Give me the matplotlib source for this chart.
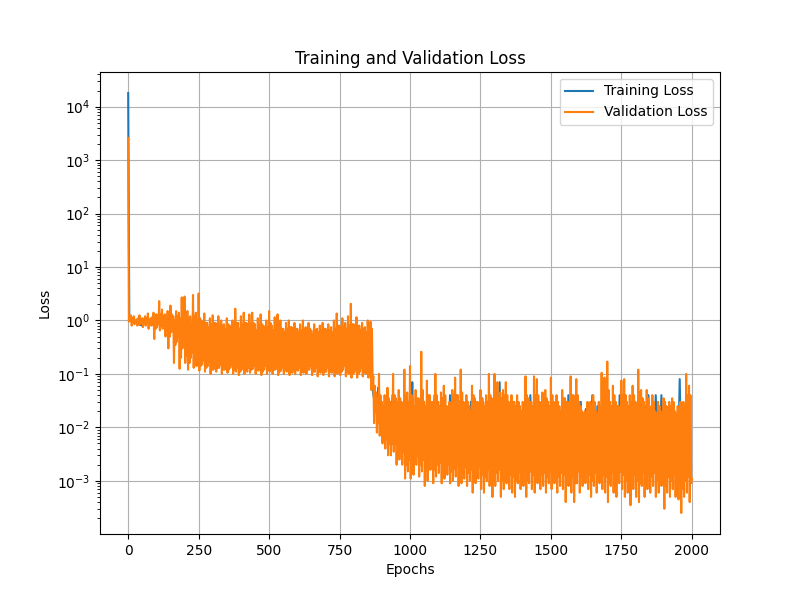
import matplotlib
matplotlib.use("Agg")
import matplotlib.pyplot as plt

# Validation loss: outer upper and lower excursions in successive 10-epoch bins
val_high = [
    2600, 1.25, 1.2, 1.05, 1.25, 1.1, 1.2, 1.35, 1.1, 1.4,
    1.3, 2.3, 1.6, 1.3, 1.5, 1.9, 1.2, 1.5, 1.4, 2.7,
    2.8, 1.5, 1.2, 3.0, 1.4, 3.2, 1.0, 1.35, 0.9, 1.1,
    1.25, 0.9, 1.2, 1.0, 0.85, 1.1, 0.8, 1.0, 1.66, 0.9,
    1.2, 1.4, 0.9, 1.3, 1.4, 0.85, 1.1, 1.3, 0.8, 1.0,
    1.5, 0.8, 1.15, 1.3, 1.0, 0.7, 0.9, 1.0, 0.75, 0.9,
    0.7, 0.85, 1.0, 0.75, 0.9, 0.65, 0.85, 0.7, 0.8, 0.9,
    0.7, 0.85, 0.75, 1.0, 1.35, 0.8, 1.1, 0.9, 1.2, 2.05,
    0.85, 1.15, 0.8, 0.9, 0.75, 1.0, 0.95, 0.09, 0.045, 0.1,
    0.03, 0.04, 0.055, 0.03, 0.1, 0.035, 0.05, 0.03, 0.12, 0.045,
    0.14, 0.03, 0.05, 0.035, 0.26, 0.03, 0.075, 0.04, 0.03, 0.1,
    0.03, 0.045, 0.06, 0.025, 0.03, 0.05, 0.085, 0.04, 0.12, 0.03,
    0.04, 0.025, 0.06, 0.035, 0.03, 0.05, 0.03, 0.04, 0.1, 0.035,
    0.1, 0.07, 0.045, 0.05, 0.07, 0.03, 0.04, 0.03, 0.04, 0.025,
    0.03, 0.09, 0.035, 0.03, 0.09, 0.08, 0.03, 0.045, 0.05, 0.03,
    0.085, 0.03, 0.04, 0.025, 0.05, 0.035, 0.03, 0.09, 0.04, 0.08,
    0.03, 0.02, 0.02, 0.03, 0.03, 0.04, 0.02, 0.03, 0.105, 0.085,
    0.17, 0.03, 0.06, 0.03, 0.025, 0.075, 0.08, 0.03, 0.04, 0.06,
    0.03, 0.12, 0.05, 0.03, 0.05, 0.025, 0.04, 0.02, 0.03, 0.02,
    0.035, 0.025, 0.03, 0.035, 0.02, 0.025, 0.03, 0.03, 0.1, 0.06,
]
val_low = [
    0.95, 0.8, 0.85, 0.8, 0.85, 0.75, 0.8, 0.7, 0.8, 0.45,
    0.75, 0.65, 0.7, 0.5, 0.3, 0.6, 0.16, 0.4, 0.125, 0.3,
    0.16, 0.12, 0.2, 0.13, 0.14, 0.115, 0.15, 0.11, 0.14, 0.1,
    0.12, 0.11, 0.13, 0.1, 0.12, 0.105, 0.13, 0.1, 0.11, 0.095,
    0.12, 0.1, 0.11, 0.105, 0.125, 0.1, 0.115, 0.095, 0.12, 0.1,
    0.11, 0.1, 0.12, 0.095, 0.115, 0.1, 0.11, 0.095, 0.105, 0.1,
    0.115, 0.095, 0.105, 0.1, 0.12, 0.095, 0.11, 0.09, 0.105, 0.095,
    0.11, 0.09, 0.105, 0.09, 0.1, 0.095, 0.12, 0.09, 0.1, 0.085,
    0.105, 0.085, 0.11, 0.09, 0.1, 0.085, 0.05, 0.012, 0.008, 0.007,
    0.005, 0.004, 0.003, 0.003, 0.0035, 0.002, 0.0025, 0.002, 0.0011, 0.0015,
    0.0011, 0.0013, 0.002, 0.0012, 0.0015, 0.0008, 0.001, 0.0016, 0.0009, 0.0012,
    0.0014, 0.0009, 0.0011, 0.0013, 0.0009, 0.001, 0.0012, 0.0008, 0.0009, 0.0011,
    0.0008, 0.001, 0.0006, 0.0009, 0.0011, 0.0007, 0.0006, 0.001, 0.0008, 0.0005,
    0.0008, 0.001, 0.0005, 0.0007, 0.0009, 0.0007, 0.0006, 0.0005, 0.0009, 0.0007,
    0.0008, 0.0005, 0.0009, 0.0007, 0.0006, 0.0009, 0.0007, 0.0008, 0.0006, 0.0009,
    0.0007, 0.0009, 0.0006, 0.0008, 0.0007, 0.0004, 0.0008, 0.0006, 0.0004, 0.0009,
    0.0006, 0.0008, 0.0009, 0.0007, 0.0005, 0.0008, 0.0006, 0.0009, 0.0007, 0.0006,
    0.0004, 0.0008, 0.0006, 0.0005, 0.0009, 0.0007, 0.0005, 0.0006, 0.00035, 0.0007,
    0.0005, 0.0004, 0.0008, 0.0005, 0.0007, 0.0006, 0.0008, 0.0005, 0.0006, 0.0008,
    0.0003, 0.0006, 0.0005, 0.0007, 0.0005, 0.00045, 0.00025, 0.0005, 0.0006, 0.0004,
]
# Inner excursions between the outer ones, which fill the solid body of the band
val_high_inner = [
    1.1, 1.1, 1.0, 1.1, 1.0, 1.05, 1.1, 1.0, 1.15, 1.2,
    1.1, 1.3, 1.2, 1.1, 1.2, 1.3, 1.0, 1.2, 1.1, 1.3,
    1.2, 1.1, 0.9, 1.2, 1.0, 1.1, 0.8, 0.9, 0.75, 0.85,
    0.9, 0.7, 0.85, 0.8, 0.7, 0.85, 0.65, 0.8, 0.9, 0.7,
    0.85, 0.9, 0.7, 0.85, 0.9, 0.65, 0.8, 0.85, 0.65, 0.75,
    0.9, 0.65, 0.8, 0.85, 0.7, 0.6, 0.7, 0.75, 0.6, 0.7,
    0.6, 0.65, 0.7, 0.6, 0.7, 0.55, 0.65, 0.6, 0.65, 0.7,
    0.6, 0.65, 0.6, 0.7, 0.8, 0.65, 0.75, 0.7, 0.8, 0.85,
    0.65, 0.8, 0.65, 0.7, 0.6, 0.75, 0.7, 0.06, 0.035, 0.04,
    0.025, 0.03, 0.035, 0.025, 0.04, 0.03, 0.035, 0.025, 0.04, 0.03,
    0.04, 0.025, 0.035, 0.03, 0.05, 0.025, 0.04, 0.03, 0.025, 0.04,
    0.025, 0.035, 0.04, 0.02, 0.025, 0.035, 0.04, 0.03, 0.045, 0.025,
    0.03, 0.02, 0.04, 0.03, 0.025, 0.035, 0.025, 0.03, 0.04, 0.03,
    0.04, 0.035, 0.035, 0.04, 0.04, 0.025, 0.03, 0.025, 0.03, 0.02,
    0.025, 0.04, 0.03, 0.025, 0.04, 0.04, 0.025, 0.035, 0.035, 0.025,
    0.04, 0.025, 0.03, 0.02, 0.035, 0.03, 0.025, 0.04, 0.03, 0.04,
    0.025, 0.018, 0.018, 0.025, 0.025, 0.03, 0.018, 0.025, 0.04, 0.04,
    0.05, 0.025, 0.04, 0.025, 0.02, 0.04, 0.04, 0.025, 0.03, 0.04,
    0.025, 0.045, 0.035, 0.025, 0.035, 0.02, 0.03, 0.018, 0.025, 0.018,
    0.03, 0.02, 0.025, 0.03, 0.018, 0.02, 0.025, 0.025, 0.04, 0.04,
]
val_low_inner = [
    1.0, 0.9, 0.9, 0.85, 0.9, 0.85, 0.9, 0.85, 0.85, 0.7,
    0.85, 0.8, 0.8, 0.7, 0.5, 0.7, 0.35, 0.5, 0.2, 0.4,
    0.22, 0.16, 0.25, 0.17, 0.18, 0.14, 0.18, 0.13, 0.17, 0.12,
    0.14, 0.13, 0.15, 0.12, 0.14, 0.12, 0.15, 0.12, 0.13, 0.11,
    0.14, 0.12, 0.13, 0.12, 0.14, 0.12, 0.13, 0.11, 0.14, 0.12,
    0.13, 0.12, 0.14, 0.11, 0.13, 0.12, 0.13, 0.11, 0.12, 0.12,
    0.13, 0.11, 0.12, 0.12, 0.14, 0.11, 0.13, 0.11, 0.12, 0.11,
    0.13, 0.11, 0.12, 0.11, 0.12, 0.11, 0.14, 0.11, 0.12, 0.1,
    0.12, 0.1, 0.13, 0.11, 0.12, 0.1, 0.07, 0.02, 0.012, 0.01,
    0.008, 0.006, 0.005, 0.005, 0.005, 0.0035, 0.004, 0.0035, 0.002, 0.0025,
    0.002, 0.0022, 0.003, 0.002, 0.0025, 0.0015, 0.0018, 0.0025, 0.0016, 0.002,
    0.0022, 0.0016, 0.0018, 0.002, 0.0015, 0.0017, 0.002, 0.0014, 0.0015, 0.0018,
    0.0014, 0.0016, 0.0012, 0.0015, 0.0018, 0.0013, 0.0012, 0.0016, 0.0014, 0.001,
    0.0014, 0.0016, 0.001, 0.0013, 0.0015, 0.0013, 0.0012, 0.001, 0.0015, 0.0013,
    0.0014, 0.001, 0.0015, 0.0013, 0.0012, 0.0015, 0.0013, 0.0014, 0.0012, 0.0015,
    0.0013, 0.0015, 0.0012, 0.0014, 0.0013, 0.0009, 0.0014, 0.0012, 0.0009, 0.0015,
    0.0012, 0.0014, 0.0015, 0.0013, 0.001, 0.0014, 0.0012, 0.0015, 0.0013, 0.0012,
    0.0009, 0.0014, 0.0012, 0.001, 0.0015, 0.0013, 0.001, 0.0012, 0.0008, 0.0013,
    0.001, 0.0009, 0.0014, 0.001, 0.0013, 0.0012, 0.0014, 0.001, 0.0012, 0.0014,
    0.0008, 0.0012, 0.001, 0.0013, 0.001, 0.0009, 0.0007, 0.001, 0.0012, 0.0009,
]
val_last_epoch = 2000
val_last_loss = 0.0011

# Training loss: the spikes that stand clear of the validation curve, each with its foot
train_epochs = [
    0, 4, 50, 54, 215, 219, 400, 780, 855, 870, 883, 887, 891, 913, 917, 921,
    934, 938, 942, 1004, 1008, 1012, 1083, 1087, 1091, 1138, 1142, 1146, 1151, 1155,
    1212, 1216, 1220, 1253, 1257, 1261, 1314, 1318, 1322, 1359, 1363, 1367, 1423, 1427, 1431,
    1446, 1450, 1454, 1558, 1562, 1566, 1602, 1606, 1610, 1620, 1624, 1628, 1643, 1647, 1651,
    1661, 1665, 1669, 1740, 1744, 1748, 1842, 1846, 1850, 1868, 1872, 1876, 1888, 1892, 1896,
    1921, 1925, 1929, 1953, 1957, 1961, 1990,
]
train_loss = [
    18000, 1.0, 0.8, 0.9, 1.05, 0.5, 0.3, 0.3, 0.3, 0.04, 0.02, 0.055, 0.012, 0.012, 0.036, 0.01,
    0.01, 0.04, 0.01, 0.01, 0.07, 0.006, 0.006, 0.04, 0.006, 0.006, 0.04, 0.006, 0.042, 0.006,
    0.006, 0.03, 0.006, 0.006, 0.035, 0.006, 0.006, 0.07, 0.006, 0.006, 0.022, 0.006, 0.006, 0.04, 0.006,
    0.006, 0.035, 0.006, 0.006, 0.04, 0.006, 0.006, 0.03, 0.006, 0.006, 0.022, 0.006, 0.006, 0.04, 0.006,
    0.006, 0.025, 0.006, 0.006, 0.04, 0.006, 0.006, 0.04, 0.006, 0.006, 0.04, 0.006, 0.006, 0.04, 0.006,
    0.006, 0.025, 0.006, 0.006, 0.08, 0.006, 0.005,
]

val_epochs = []
val_loss = []
for i, (a, b, c, d) in enumerate(zip(val_high, val_low, val_high_inner, val_low_inner)):
    val_epochs += [i * 10, i * 10 + 2.5, i * 10 + 5, i * 10 + 7.5]
    val_loss += [a, b, c, d]
val_epochs.append(val_last_epoch)
val_loss.append(val_last_loss)

fig, ax = plt.subplots(figsize=(8, 6), dpi=100)
ax.plot(train_epochs, train_loss, label="Training Loss")
ax.plot(val_epochs, val_loss, label="Validation Loss")
ax.set_yscale("log")
ax.set_xlabel("Epochs")
ax.set_ylabel("Loss")
ax.set_title("Training and Validation Loss")
ax.legend()
ax.grid(True)
fig.savefig("out.png", dpi=100)
